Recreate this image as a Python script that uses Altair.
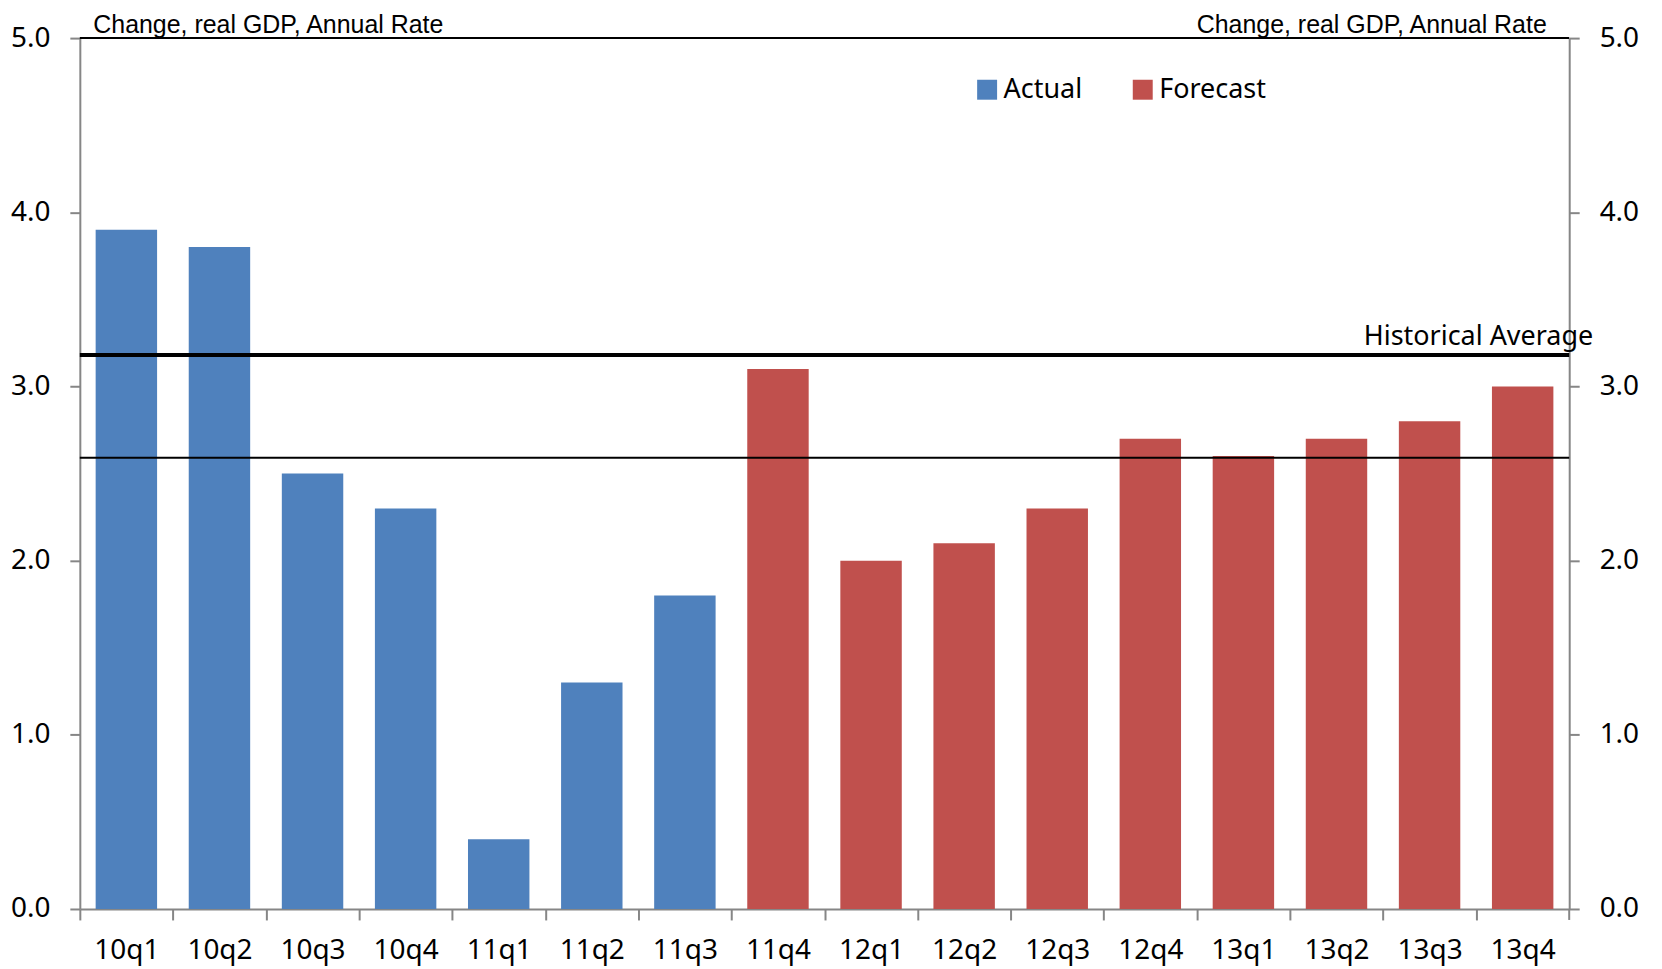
import altair as alt
import pandas as pd

quarters = ["10q1", "10q2", "10q3", "10q4", "11q1", "11q2", "11q3", "11q4",
            "12q1", "12q2", "12q3", "12q4", "13q1", "13q2", "13q3", "13q4"]
growth = [3.9, 3.8, 2.5, 2.3, 0.4, 1.3, 1.8, 3.1,
          2.0, 2.1, 2.3, 2.7, 2.6, 2.7, 2.8, 3.0]
status = ["Actual"] * 7 + ["Forecast"] * 9
series_names = ["Actual", "Forecast"]
series_colors = ["#4F81BD", "#C0504D"]

ref_values = [3.18, 2.59]
ref_widths = [4, 2]
ref_label = ["Historical Average", ""]
frame_top = [5.0]

axis_title = "Change, real GDP, Annual Rate"
y_ticks = [0, 1, 2, 3, 4, 5]

W, H = 1493, 873
step = W / len(quarters)
FONT = "Noto Sans"
TFONT = "Liberation Sans"
GREY = "#868686"
ydom = alt.Scale(domain=[0, 5], nice=False, zero=True)

df = pd.DataFrame({"quarter": quarters, "growth": growth, "status": status})
ref_df = pd.DataFrame({"value": ref_values, "w": ref_widths, "label": ref_label})
top_df = pd.DataFrame({"value": frame_top})

yaxis_common = dict(values=y_ticks, format=".1f", labelFontSize=28, labelFont=FONT,
                    labelColor="black", tickSize=10, tickColor=GREY, tickWidth=2,
                    domainColor=GREY, domainWidth=2, grid=False, labelPadding=20,
                    title=axis_title, titleAngle=0, titleFontSize=25, titleFont=TFONT,
                    titleFontWeight="normal", titleColor="black",
                    titleBaseline="alphabetic", titleY=-6)

bars = alt.Chart(df).mark_bar().encode(
    x=alt.X("quarter:N", sort=quarters,
            scale=alt.Scale(paddingInner=0.34, paddingOuter=0.17),
            axis=alt.Axis(title=None, labelAngle=0, labelFontSize=28, labelFont=FONT,
                          labelColor="black", tickSize=11, tickColor=GREY, tickWidth=2,
                          domainColor=GREY, domainWidth=2, bandPosition=0.5,
                          tickOffset=-step / 2, labelOffset=step / 2, labelPadding=17)),
    y=alt.Y("growth:Q", scale=ydom,
            axis=alt.Axis(orient="left", titleAlign="left", titleX=13, **yaxis_common)),
    color=alt.Color("status:N",
                    scale=alt.Scale(domain=series_names, range=series_colors),
                    legend=alt.Legend(orient="none", legendX=896, legendY=38,
                                      direction="horizontal", title=None,
                                      symbolType="square", symbolSize=400,
                                      symbolStrokeWidth=0, labelFontSize=27,
                                      labelFont=FONT, labelColor="black",
                                      labelOffset=3, columnPadding=47)),
)

ref_rules = alt.Chart(ref_df).mark_rule(color="black").encode(
    y=alt.Y("value:Q", scale=ydom,
            axis=alt.Axis(orient="right", titleAlign="right", titleX=-23, **yaxis_common)),
    size=alt.Size("w:Q", scale=None, legend=None),
)

ref_text = alt.Chart(ref_df).transform_filter("datum.label != ''").mark_text(
    align="right", baseline="alphabetic", dy=-10, fontSize=27, font=FONT, color="black"
).encode(
    x=alt.value(W + 24),
    y=alt.Y("value:Q", scale=ydom, axis=None),
    text="label:N",
)

top_rule = alt.Chart(top_df).mark_rule(color="black", strokeWidth=2).encode(
    y=alt.Y("value:Q", scale=ydom, axis=None),
)

end_tick = alt.Chart(top_df).mark_rule(color=GREY, strokeWidth=2).encode(
    x=alt.value(W), y=alt.value(H), y2=alt.value(H + 11),
)

chart = alt.layer(bars, ref_rules, top_rule, ref_text, end_tick).resolve_axis(
    y="independent"
).properties(
    width=W, height=H,
    autosize=alt.AutoSizeParams(type="none"),
    padding={"left": 72, "top": 29, "right": 85, "bottom": 62},
).configure_view(stroke=None)

chart.save("out.html", embed_options={"renderer": "svg", "actions": False})
